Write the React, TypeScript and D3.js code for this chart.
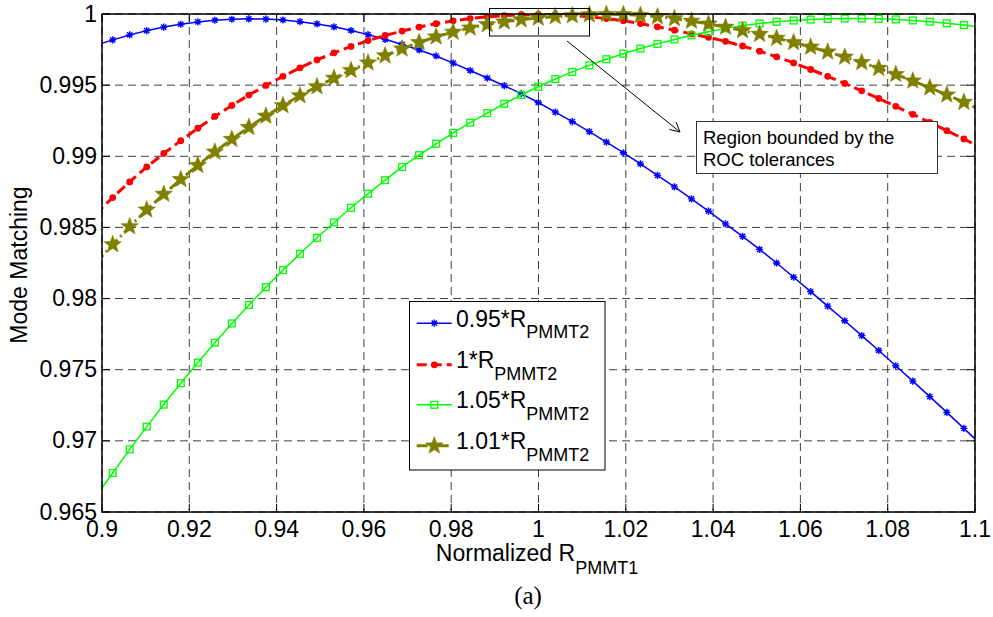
import React, { useEffect } from 'react';
import * as d3 from 'd3';

const W = 993,
  H = 617;
const plot = { left: 102, right: 975, top: 14, bottom: 512 };

// sample positions (first and last lie just outside the axis limits)
const xSamples = [
  0.89855, 0.90245, 0.90635, 0.91025, 0.91415, 0.91805, 0.92195, 0.92585, 0.92975, 0.93365,
  0.93755, 0.94145, 0.94535, 0.94925, 0.95315, 0.95705, 0.96095, 0.96485, 0.96875, 0.97265,
  0.97655, 0.98045, 0.98435, 0.98825, 0.99215, 0.99605, 0.99995, 1.00385, 1.00775, 1.01165,
  1.01555, 1.01945, 1.02335, 1.02725, 1.03115, 1.03505, 1.03895, 1.04285, 1.04675, 1.05065,
  1.05455, 1.05845, 1.06235, 1.06625, 1.07015, 1.07405, 1.07795, 1.08185, 1.08575, 1.08965,
  1.09355, 1.09745, 1.10135,
];

const r095 = [
  0.9978, 0.99818, 0.99853, 0.99883, 0.99908, 0.99928, 0.99944, 0.99956, 0.99963, 0.99966,
  0.99964, 0.99958, 0.99946, 0.9993, 0.9991, 0.99884, 0.99855, 0.99822, 0.99786, 0.99747,
  0.99705, 0.99655, 0.99603, 0.9955, 0.99496, 0.9944, 0.99378, 0.99311, 0.99243, 0.99173,
  0.991, 0.99025, 0.98946, 0.98866, 0.98785, 0.98701, 0.98614, 0.98525, 0.98437, 0.98346,
  0.9825, 0.9815, 0.98049, 0.97947, 0.97844, 0.9774, 0.97635, 0.97528, 0.9742, 0.97311,
  0.972, 0.97088, 0.96975,
];

const r100 = [
  0.98595, 0.9871, 0.9882, 0.98925, 0.9902, 0.9911, 0.99197, 0.9928, 0.99357, 0.9943,
  0.99498, 0.99562, 0.99622, 0.99677, 0.99727, 0.99772, 0.99813, 0.99849, 0.9988, 0.99908,
  0.99932, 0.99952, 0.99968, 0.9998, 0.99989, 0.99995, 0.99997, 0.99995, 0.99989, 0.9998,
  0.99968, 0.99953, 0.99933, 0.9991, 0.99886, 0.9986, 0.99836, 0.99808, 0.99775, 0.99739,
  0.99699, 0.99656, 0.9961, 0.99562, 0.99512, 0.9946, 0.99406, 0.99351, 0.99295, 0.99238,
  0.9918, 0.99122, 0.9906,
];

const r105 = [
  0.96608, 0.96774, 0.9694, 0.971, 0.97255, 0.97405, 0.9755, 0.9769, 0.97825, 0.97955,
  0.9808, 0.982, 0.98315, 0.98427, 0.98535, 0.98638, 0.98737, 0.98832, 0.98925, 0.99008,
  0.99088, 0.99164, 0.99236, 0.99304, 0.99369, 0.99431, 0.99489, 0.99543, 0.99593, 0.99639,
  0.99682, 0.99721, 0.99757, 0.9979, 0.99821, 0.9985, 0.99876, 0.99899, 0.99918, 0.99933,
  0.99945, 0.99954, 0.99961, 0.99966, 0.99968, 0.99968, 0.99966, 0.99962, 0.99955, 0.99946,
  0.99935, 0.99922, 0.99907,
];

const r101 = [
  0.9825, 0.9838, 0.98506, 0.98624, 0.98734, 0.98838, 0.98937, 0.99031, 0.9912, 0.99204,
  0.99283, 0.99357, 0.99426, 0.9949, 0.99549, 0.99604, 0.99657, 0.99707, 0.99755, 0.998,
  0.9984, 0.99873, 0.99902, 0.99926, 0.99945, 0.9996, 0.99972, 0.99982, 0.99989, 0.99995,
  0.99998, 0.99997, 0.99991, 0.99981, 0.99968, 0.9995, 0.9993, 0.99908, 0.99884, 0.99858,
  0.9983, 0.998, 0.99768, 0.99734, 0.99698, 0.9966, 0.99619, 0.99576, 0.9953, 0.99482,
  0.99432, 0.9938, 0.99326,
];

const xTicks = [0.9, 0.92, 0.94, 0.96, 0.98, 1, 1.02, 1.04, 1.06, 1.08, 1.1];
const yTicks = [0.965, 0.97, 0.975, 0.98, 0.985, 0.99, 0.995, 1];

const legendMain = ['0.95*R', '1*R', '1.05*R', '1.01*R'];
const legendSub = 'PMMT2';

const FONT = '"Liberation Sans", Arial, Helvetica, sans-serif';

const x = d3.scaleLinear().domain([0.9, 1.1]).range([plot.left, plot.right]);
const y = d3.scaleLinear().domain([0.965, 1]).range([plot.bottom, plot.top]);

type Style = {
  values: number[];
  color: string;
  width: number;
  dash?: string;
  marker: 'asterisk' | 'dot' | 'square' | 'star';
};

const series: Style[] = [
  { values: r095, color: '#0000ff', width: 1.5, marker: 'asterisk' },
  { values: r100, color: '#ff0000', width: 3, dash: '10,5', marker: 'dot' },
  { values: r105, color: '#00ff00', width: 1.5, marker: 'square' },
  { values: r101, color: '#808000', width: 3, dash: '11,4,2,4', marker: 'star' },
];

const starPath = (() => {
  const R = 9.2,
    r = 3.9;
  const pts = d3.range(10).map((i) => {
    const a = ((-90 + i * 36) * Math.PI) / 180;
    const rad = i % 2 === 0 ? R : r;
    return [rad * Math.cos(a), rad * Math.sin(a)] as [number, number];
  });
  return 'M' + pts.map((p) => p.join(',')).join('L') + 'Z';
})();

function Marker({ kind, color, cx, cy }: { kind: Style['marker']; color: string; cx: number; cy: number }) {
  if (kind === 'asterisk') {
    const a = 3.6,
      b = 2.6;
    return (
      <path
        transform={`translate(${cx},${cy})`}
        d={`M${-a},0H${a}M0,${-a}V${a}M${-b},${-b}L${b},${b}M${-b},${b}L${b},${-b}`}
        stroke={color}
        strokeWidth={1.4}
        fill="none"
      />
    );
  }
  if (kind === 'dot') return <circle cx={cx} cy={cy} r={3.4} fill={color} />;
  if (kind === 'square')
    return <rect x={cx - 3.4} y={cy - 3.4} width={6.8} height={6.8} fill="none" stroke={color} strokeWidth={1.3} />;
  return <path transform={`translate(${cx},${cy})`} d={starPath} fill={color} stroke={color} strokeWidth={0.5} />;
}

const fmt = (v: number) => String(+v.toFixed(3));

export default function App() {
  useEffect(() => {
    document.body.style.margin = '0';
  }, []);

  const line = d3
    .line<number>()
    .x((_, i) => x(xSamples[i]))
    .y((d) => y(d));

  const legendY = [326.7, 368.3, 408.3, 449.3];

  return (
    <svg width={W} height={H} style={{ display: 'block', background: '#fff' }} fontFamily={FONT}>
      <defs>
        <clipPath id="plotClip">
          <rect x={plot.left} y={plot.top} width={plot.right - plot.left} height={plot.bottom - plot.top} />
        </clipPath>
      </defs>
      <rect width={W} height={H} fill="#fff" />

      {/* grid */}
      <g stroke="#404040" strokeWidth={1} strokeDasharray="8,5">
        {xTicks.map((t) => (
          <line key={'gx' + t} x1={x(t)} x2={x(t)} y1={plot.top} y2={plot.bottom} />
        ))}
        {yTicks.map((t) => (
          <line key={'gy' + t} x1={plot.left} x2={plot.right} y1={y(t)} y2={y(t)} />
        ))}
      </g>

      {/* series */}
      {series.map((s, si) => (
        <g key={si}>
          <path
            d={line(s.values) || ''}
            clipPath="url(#plotClip)"
            fill="none"
            stroke={s.color}
            strokeWidth={s.width}
            strokeDasharray={s.dash}
            strokeLinejoin="round"
          />
          {s.values.map((v, i) =>
            xSamples[i] >= 0.9 && xSamples[i] <= 1.1 ? (
              <Marker key={i} kind={s.marker} color={s.color} cx={x(xSamples[i])} cy={y(v)} />
            ) : null
          )}
        </g>
      ))}

      {/* axes box and ticks */}
      <rect
        x={plot.left}
        y={plot.top}
        width={plot.right - plot.left}
        height={plot.bottom - plot.top}
        fill="none"
        stroke="#000"
        strokeWidth={1.5}
      />
      <g stroke="#000" strokeWidth={1}>
        {xTicks.map((t) => (
          <g key={'tx' + t}>
            <line x1={x(t)} x2={x(t)} y1={plot.bottom} y2={plot.bottom - 8} />
            <line x1={x(t)} x2={x(t)} y1={plot.top} y2={plot.top + 8} />
          </g>
        ))}
        {yTicks.map((t) => (
          <g key={'ty' + t}>
            <line x1={plot.left} x2={plot.left + 8} y1={y(t)} y2={y(t)} />
            <line x1={plot.right} x2={plot.right - 8} y1={y(t)} y2={y(t)} />
          </g>
        ))}
      </g>

      {/* tick labels */}
      <g fontSize={23} fill="#000">
        {xTicks.map((t) => (
          <text key={'lx' + t} x={x(t)} y={plot.bottom + 25} textAnchor="middle">
            {fmt(t)}
          </text>
        ))}
        {yTicks.map((t) => (
          <text key={'ly' + t} x={plot.left - 5} y={y(t)} dy="0.33em" textAnchor="end">
            {fmt(t)}
          </text>
        ))}
      </g>

      {/* axis titles */}
      <text x={537} y={560.7} fontSize={23} textAnchor="middle">
        Normalized R
        <tspan dy={13.3} fontSize={18}>
          PMMT1
        </tspan>
      </text>
      <text transform="translate(27,265) rotate(-90)" fontSize={23} textAnchor="middle">
        Mode Matching
      </text>
      <text x={528} y={604} fontSize={25} textAnchor="middle" fontFamily='"Liberation Serif", "Times New Roman", serif'>
        (a)
      </text>

      {/* annotation */}
      <rect x={489.5} y={8.5} width={100} height={27.5} fill="none" stroke="#000" strokeWidth={1} />
      <g stroke="#000" strokeWidth={1} fill="none">
        <line x1={567} y1={41} x2={680} y2={132} />
        <path d="M669.5,129.5L680,132L676,122" />
      </g>
      <rect x={696.5} y={121.5} width={241} height={52} fill="#fff" stroke="#333" strokeWidth={1} />
      <text x={703} y={144} fontSize={18.5}>
        Region bounded by the
      </text>
      <text x={703} y={165.5} fontSize={18.5}>
        ROC tolerances
      </text>

      {/* legend */}
      <rect x={409.5} y={301.5} width={195.5} height={168.5} fill="#fff" stroke="#000" strokeWidth={1} />
      {series.map((s, i) => (
        <g key={'lg' + i}>
          <line
            x1={416.7}
            x2={451.7}
            y1={legendY[i] - 3.5}
            y2={legendY[i] - 3.5}
            stroke={s.color}
            strokeWidth={s.width}
            strokeDasharray={s.dash}
          />
          <Marker kind={s.marker} color={s.color} cx={434.3} cy={legendY[i] - 3.5} />
          <text x={456} y={legendY[i]} fontSize={23}>
            {legendMain[i]}
            <tspan dy={11.5} fontSize={18}>
              {legendSub}
            </tspan>
          </text>
        </g>
      ))}
    </svg>
  );
}
